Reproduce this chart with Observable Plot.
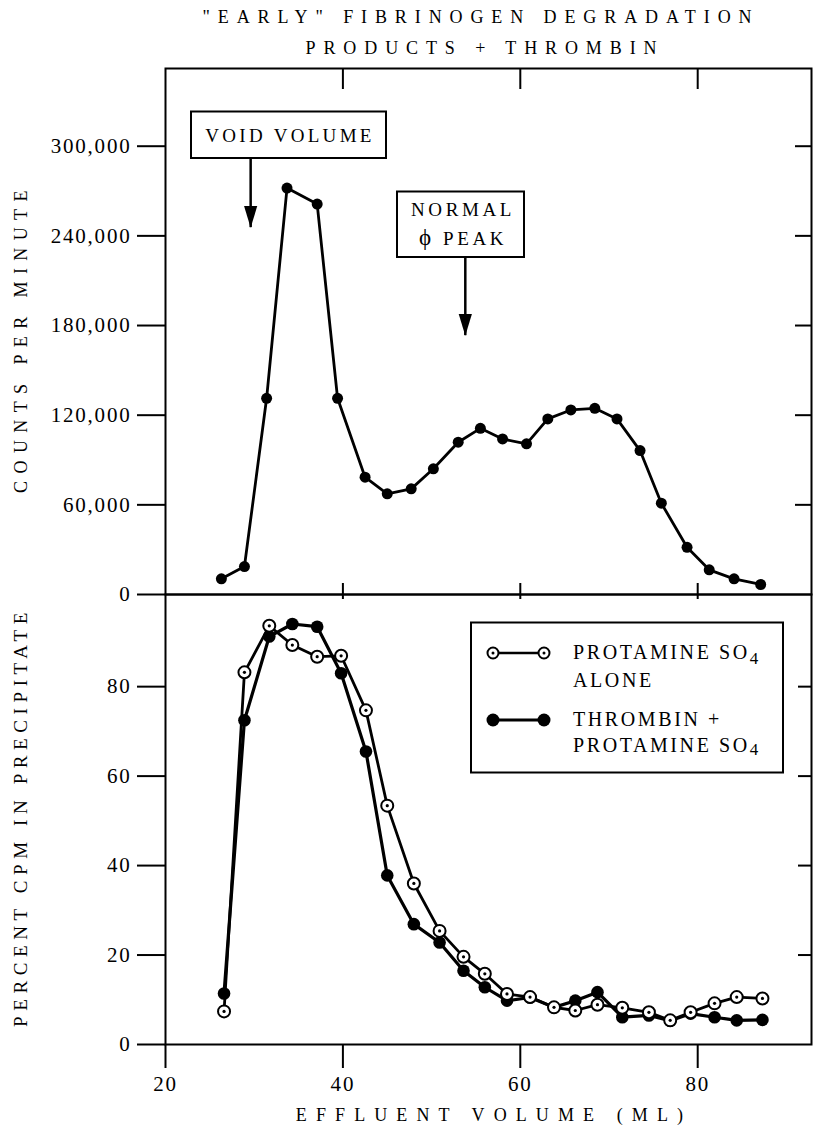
<!DOCTYPE html>
<html><head><meta charset="utf-8">
<script src="https://cdn.jsdelivr.net/npm/d3@7"></script>
<script src="https://cdn.jsdelivr.net/npm/@observablehq/plot@0.6"></script>
<style>
body{margin:0;background:#fff;}
#page{position:relative;width:813px;height:1132px;overflow:hidden;background:#fff;}
#page > svg{position:absolute;left:0;}
#page svg, #page svg text{font-family:"Liberation Serif","DejaVu Serif","Noto Serif",serif !important;}
#overlay{position:absolute;left:0;top:0;pointer-events:none;}
</style></head>
<body><div id="page"></div>
<script>
// ---- data ----
const volumeTop = [26.3, 28.9, 31.4, 33.7, 37.1, 39.4, 42.5, 45.0, 47.7, 50.2, 53.0, 55.5, 58.0, 60.7, 63.1, 65.7, 68.4, 70.9, 73.5, 75.9, 78.8, 81.3, 84.1, 87.1];
const countsPerMinute = [10500, 18700, 131300, 272000, 261300, 131300, 78500, 67400, 70700, 84100, 101900, 111200, 104100, 100800, 117500, 123500, 124600, 117500, 96300, 61100, 31600, 16500, 10500, 6700];
const volumeBottom = [26.6, 28.9, 31.7, 34.3, 37.1, 39.8, 42.6, 45.0, 48.0, 50.9, 53.6, 56.0, 58.5, 61.1, 63.8, 66.2, 68.7, 71.5, 74.5, 76.9, 79.2, 81.9, 84.4, 87.3];
const protamineAlone = [7.4, 83.2, 93.6, 89.3, 86.7, 86.9, 74.7, 53.4, 36.0, 25.4, 19.6, 15.8, 11.3, 10.6, 8.3, 7.6, 8.9, 8.2, 7.2, 5.4, 7.2, 9.2, 10.6, 10.3];
const thrombinProtamine = [11.4, 72.5, 91.2, 94.0, 93.4, 83.0, 65.5, 37.8, 26.9, 22.8, 16.5, 12.8, 9.8, 10.5, 8.3, 9.8, 11.7, 6.1, 6.5, 5.3, 6.9, 6.1, 5.4, 5.5];
const cpmTicks = [0, 60000, 120000, 180000, 240000, 300000];
const percentTicks = [0, 20, 40, 60, 80];
const volumeTicks = [20, 40, 60, 80];
const markers = [
  {label: "VOID VOLUME", volume: 29.6, from: 291600, to: 245500},
  {label: "NORMAL ϕ PEAK", volume: 53.8, from: 225400, to: 173200}
];

// ---- layout ----
const FONT = "'Liberation Serif', 'DejaVu Serif', 'Noto Serif', serif";
const W = 813, ML = 165, MR = 2;
const xDomain = [20, 92.83];
const innerW = W - ML - MR;
const topH = 594, topMT = 68, topInner = topH - topMT;
const botH = 538, botMB = 88, botInner = botH - botMB;
const baseStyle = {background: "transparent", overflow: "visible", fontFamily: FONT, fontSize: "21px", letterSpacing: "1.8px", color: "black"};

const topRows = volumeTop.map((v, i) => ({volume: v, cpm: countsPerMinute[i]}));
const botRows = volumeBottom.map((v, i) => ({volume: v, alone: protamineAlone[i], thrombin: thrombinProtamine[i]}));

const arrowHead = {draw(ctx, size) { const r = Math.sqrt(size / Math.PI); ctx.moveTo(0, 0); ctx.lineTo(-1.1 * r, -3.6 * r); ctx.lineTo(1.1 * r, -3.6 * r); ctx.closePath(); }};

const topPlot = Plot.plot({
  width: W, height: topH, marginLeft: ML, marginRight: MR, marginTop: topMT, marginBottom: 0,
  style: baseStyle,
  x: {domain: xDomain, axis: null},
  y: {domain: [0, 352000], axis: null},
  marks: [
    Plot.axisY(cpmTicks, {anchor: "left", tickSize: 28, tickPadding: 6, strokeWidth: 2, tickFormat: d3.format(","), label: null, fontFamily: FONT}),
    Plot.ruleY(cpmTicks.filter(d => d > 0), {y: d => d, insetLeft: innerW - 16, strokeWidth: 2}),
    Plot.ruleX(volumeTicks.filter(d => d > 20), {x: d => d, insetBottom: topInner - 21, strokeWidth: 2}),
    Plot.ruleX(volumeTicks.filter(d => d > 20), {x: d => d, insetTop: topInner - 11, strokeWidth: 2}),
    Plot.frame({strokeWidth: 2}),
    Plot.ruleX(markers, {x: "volume", y1: "from", y2: "to", strokeWidth: 2.5}),
    Plot.dot(markers, {x: "volume", y: "to", symbol: arrowHead, r: 6, fill: "black", stroke: null}),
    Plot.line(topRows, {x: "volume", y: "cpm", strokeWidth: 2.8}),
    Plot.dot(topRows, {x: "volume", y: "cpm", r: 5.5, fill: "black"})
  ]
});
topPlot.style.top = "0px";

const botPlot = Plot.plot({
  width: W, height: botH, marginLeft: ML, marginRight: MR, marginTop: 0, marginBottom: botMB,
  style: baseStyle,
  x: {domain: xDomain},
  y: {domain: [0, 100.6]},
  marks: [
    Plot.axisY(percentTicks, {anchor: "left", tickSize: 28, tickPadding: 6, strokeWidth: 2, label: null, fontFamily: FONT}),
    Plot.axisX(volumeTicks, {anchor: "bottom", tickSize: 24, tickPadding: 8, strokeWidth: 2, label: null, fontFamily: FONT}),
    Plot.ruleY(percentTicks.filter(d => d > 0), {y: d => d, insetLeft: innerW - 13, strokeWidth: 2}),
    Plot.ruleX(volumeTicks.filter(d => d > 20), {x: d => d, insetBottom: botInner - 5, strokeWidth: 2}),
    Plot.frame({strokeWidth: 2}),
    Plot.line(botRows, {x: "volume", y: "thrombin", strokeWidth: 3.2}),
    Plot.line(botRows, {x: "volume", y: "alone", strokeWidth: 2.8}),
    Plot.dot(botRows, {x: "volume", y: "thrombin", r: 6.3, fill: "black"}),
    Plot.dot(botRows, {x: "volume", y: "alone", r: 6, fill: "white", stroke: "black", strokeWidth: 2}),
    Plot.dot(botRows, {x: "volume", y: "alone", r: 1.6, fill: "black"})
  ]
});
botPlot.style.top = topH + "px";

const page = document.getElementById("page");
page.appendChild(topPlot);
page.appendChild(botPlot);

// ---- overlay text: title, axis labels, annotation boxes, legend ----
const ns = "http://www.w3.org/2000/svg";
const ov = document.createElementNS(ns, "svg");
ov.setAttribute("id", "overlay");
ov.setAttribute("width", W); ov.setAttribute("height", 1132);
page.appendChild(ov);
function el(tag, attrs, text) {
  const e = document.createElementNS(ns, tag);
  if (tag === "text") e.setAttribute("font-family", FONT);
  for (const k in attrs) e.setAttribute(k, attrs[k]);
  if (text != null) e.textContent = text;
  ov.appendChild(e);
  return e;
}
function spans(textEl, parts) {
  textEl.textContent = "";
  for (const p of parts) {
    const t = document.createElementNS(ns, "tspan");
    t.textContent = p.t;
    if (p.dy) t.setAttribute("dy", p.dy);
    if (p.size) t.setAttribute("font-size", p.size);
    textEl.appendChild(t);
  }
  return textEl;
}
// title
el("text", {x: 481, y: 23, "text-anchor": "middle", "font-size": 18, "letter-spacing": 7.9}, '"EARLY" FIBRINOGEN DEGRADATION');
el("text", {x: 485, y: 54, "text-anchor": "middle", "font-size": 18, "letter-spacing": 7.9}, "PRODUCTS + THROMBIN");
// y labels
el("text", {transform: "translate(27,338) rotate(-90)", "text-anchor": "middle", "font-size": 18, "letter-spacing": 7.4}, "COUNTS PER MINUTE");
el("text", {transform: "translate(27,817) rotate(-90)", "text-anchor": "middle", "font-size": 19, "letter-spacing": 5.6}, "PERCENT CPM IN PRECIPITATE");
// x label
el("text", {x: 494, y: 1121, "text-anchor": "middle", "font-size": 18, "letter-spacing": 9.1}, "EFFLUENT VOLUME (ML)");
// annotation boxes
el("rect", {x: 191, y: 111.5, width: 195, height: 46.5, fill: "white", stroke: "black", "stroke-width": 2});
el("text", {x: 290, y: 141.5, "text-anchor": "middle", "font-size": 19, "letter-spacing": 3.3}, markers[0].label);
el("rect", {x: 397, y: 191.5, width: 127, height: 65.5, fill: "white", stroke: "black", "stroke-width": 2});
el("text", {x: 463, y: 216, "text-anchor": "middle", "font-size": 19, "letter-spacing": 3.6}, "NORMAL");
spans(el("text", {x: 463, y: 245, "text-anchor": "middle", "font-size": 19, "letter-spacing": 3.6}), [{t: "ϕ", size: 23}, {t: " PEAK"}]);
// legend
el("rect", {x: 471, y: 622.5, width: 312, height: 150, fill: "white", stroke: "black", "stroke-width": 2});
el("line", {x1: 493, x2: 544, y1: 653, y2: 653, stroke: "black", "stroke-width": 2.5});
el("circle", {cx: 493, cy: 653, r: 5.5, fill: "white", stroke: "black", "stroke-width": 2});
el("circle", {cx: 544, cy: 653, r: 5.5, fill: "white", stroke: "black", "stroke-width": 2});
el("circle", {cx: 493, cy: 653, r: 1.5, fill: "black"});
el("circle", {cx: 544, cy: 653, r: 1.5, fill: "black"});
el("line", {x1: 493, x2: 544, y1: 720, y2: 720, stroke: "black", "stroke-width": 3});
el("circle", {cx: 493, cy: 720, r: 6.5, fill: "black"});
el("circle", {cx: 544, cy: 720, r: 6.5, fill: "black"});
spans(el("text", {x: 573, y: 659, "font-size": 20, "letter-spacing": 2.6}), [{t: "PROTAMINE SO"}, {t: "4", dy: 5, size: 17}]);
el("text", {x: 573, y: 687, "font-size": 20, "letter-spacing": 2.6}, "ALONE");
el("text", {x: 573, y: 726, "font-size": 20, "letter-spacing": 2.6}, "THROMBIN +");
spans(el("text", {x: 573, y: 752, "font-size": 20, "letter-spacing": 2.6}), [{t: "PROTAMINE SO"}, {t: "4", dy: 3, size: 17}]);
</script>
</body></html>
